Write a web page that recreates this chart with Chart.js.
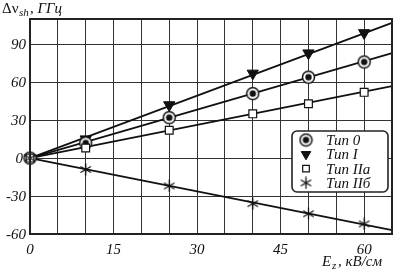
<!DOCTYPE html>
<html>
<head>
<meta charset="utf-8">
<script src="https://cdn.jsdelivr.net/npm/chart.js@4.4.0/dist/chart.umd.min.js"></script>
<style>
  html, body { margin: 0; padding: 0; background: #fff; }
  #wrap { width: 393px; height: 271px; }
</style>
</head>
<body>
<div id="wrap"><canvas id="chart" width="393" height="271"></canvas></div>
<script>
// field values, кВ/см
const fields = [0, 10, 25, 40, 50, 60];
// measured shifts, ГГц
const type0  = [0, 12, 32, 51, 64, 76];
const typeI  = [0, 15, 42, 67, 83, 99];
const typeIIa = [0, 8, 22, 35, 43, 52];
const typeIIb = [0, -9, -22, -36, -44, -52];
// fit lines, value at x = 0 and x = 65
const fitX = [0, 65];
const fit0   = [0, 83];
const fitI   = [0, 107];
const fitIIa = [0, 57];
const fitIIb = [0, -57];
const xTicks = [0, 15, 30, 45, 60];
const yTicks = [-60, -30, 0, 30, 60, 90];
const legendNames = ['Тип 0', 'Тип I', 'Тип IIa', 'Тип IIб'];

const FONT = '"Liberation Serif", "DejaVu Serif", serif';

// bullseye marker
function bullseye() {
    const c = document.createElement('canvas');
    c.width = 15; c.height = 15;
    const g = c.getContext('2d');
    g.fillStyle = '#fff';
    g.strokeStyle = '#111';
    g.lineWidth = 1.5;
    g.beginPath(); g.arc(7.5, 7.5, 6, 0, Math.PI * 2); g.fill(); g.stroke();
    g.fillStyle = '#111';
    g.beginPath(); g.arc(7.5, 7.5, 3.2, 0, Math.PI * 2); g.fill();
    return c;
}
// six-arm asterisk marker
function asterisk() {
    const c = document.createElement('canvas');
    c.width = 13; c.height = 13;
    const g = c.getContext('2d');
    g.strokeStyle = '#111';
    g.lineWidth = 1.3;
    g.lineCap = 'round';
    for (let k = 0; k < 3; k++) {
        const ang = Math.PI / 2 + k * Math.PI / 3;
        const dx = Math.cos(ang) * 5.5, dy = Math.sin(ang) * 5.5;
        g.beginPath(); g.moveTo(6.5 - dx, 6.5 - dy); g.lineTo(6.5 + dx, 6.5 + dy); g.stroke();
    }
    return c;
}
const bull = bullseye();
const star = asterisk();

const pts = (ys) => fields.map((x, i) => ({ x, y: ys[i] }));
const line = (ys) => fitX.map((x, i) => ({ x, y: ys[i] }));

function lineSet(ys) {
    return { data: line(ys), borderColor: '#111', borderWidth: 1.8, pointRadius: 0, showLine: true, order: 5, clip: false };
}

const markers = [
    { pointStyle: bull, pointRadius: 7, backgroundColor: '#fff', borderColor: '#111', borderWidth: 1.4, rotation: 0 },
    { pointStyle: 'triangle', pointRadius: 6.5, backgroundColor: '#111', borderColor: '#111', borderWidth: 1, rotation: 180 },
    { pointStyle: 'rect', pointRadius: 5.5, backgroundColor: '#fff', borderColor: '#111', borderWidth: 1.2, rotation: 0 },
    { pointStyle: star, pointRadius: 6, backgroundColor: '#fff', borderColor: '#111', borderWidth: 1.2, rotation: 0 }
];

function markSet(ys, m) {
    return {
        data: pts(ys), showLine: false, order: 1, clip: false,
        pointStyle: m.pointStyle, pointRadius: m.pointRadius, rotation: m.rotation,
        pointBackgroundColor: m.backgroundColor, pointBorderColor: m.borderColor, pointBorderWidth: m.borderWidth
    };
}

const framePlugin = {
    id: 'frame',
    afterDraw(chart) {
        const { ctx, chartArea: a, scales } = chart;
        ctx.save();
        ctx.strokeStyle = '#222';
        ctx.lineWidth = 2;
        ctx.strokeRect(a.left, a.top, a.right - a.left, a.bottom - a.top);

        // tick labels
        ctx.fillStyle = '#111';
        ctx.font = 'italic 15px ' + FONT;
        ctx.textAlign = 'center';
        ctx.textBaseline = 'alphabetic';
        xTicks.forEach(v => ctx.fillText(String(v), scales.x.getPixelForValue(v), 254));
        ctx.textAlign = 'right';
        ctx.textBaseline = 'middle';
        yTicks.forEach(v => ctx.fillText(String(v), v === 0 ? 23 : 26, scales.y.getPixelForValue(v) + 1));
        ctx.textAlign = 'left';

        // axis titles
        ctx.textBaseline = 'alphabetic';
        ctx.font = '15px ' + FONT;
        ctx.fillText('Δν', 2, 13);
        ctx.font = 'italic 11px ' + FONT;
        ctx.fillText('sh', 19, 16);
        ctx.font = 'italic 15px ' + FONT;
        ctx.fillText(', ГГц', 30, 13);

        ctx.font = 'italic 15px ' + FONT;
        ctx.fillText('E', 322, 266);
        ctx.font = 'italic 11px ' + FONT;
        ctx.fillText('z', 332, 269);
        ctx.font = 'italic 15px ' + FONT;
        ctx.fillText(', кВ/см', 338, 266);

        // legend box
        const bx = 292, by = 131, bw = 96, bh = 61;
        ctx.fillStyle = '#fff';
        ctx.strokeStyle = '#222';
        ctx.lineWidth = 1.6;
        ctx.beginPath();
        ctx.roundRect(bx, by, bw, bh, 5);
        ctx.fill(); ctx.stroke();
        ctx.font = 'italic 15px ' + FONT;
        ctx.textBaseline = 'middle';
        markers.forEach((m, i) => {
            const y = by + 9 + i * 14.3;
            ctx.save();
            ctx.fillStyle = m.backgroundColor;
            ctx.strokeStyle = m.borderColor;
            ctx.lineWidth = m.borderWidth;
            Chart.helpers.drawPoint(ctx, {
                pointStyle: m.pointStyle, radius: m.pointRadius * 0.85, rotation: m.rotation, borderWidth: m.borderWidth
            }, 306, y);
            ctx.restore();
            ctx.fillStyle = '#111';
            ctx.fillText(legendNames[i], 326, y + 1);
        });
        ctx.restore();
    }
};

new Chart(document.getElementById('chart'), {
    type: 'scatter',
    data: {
        datasets: [
            lineSet(fitI), lineSet(fit0), lineSet(fitIIa), lineSet(fitIIb),
            markSet(typeIIb, markers[3]), markSet(typeIIa, markers[2]),
            markSet(type0, markers[0]), markSet(typeI, markers[1])
        ]
    },
    options: {
        responsive: false,
        animation: false,
        layout: { autoPadding: false, padding: { top: 19, right: 1, left: 0, bottom: 0 } },
        plugins: { legend: { display: false }, tooltip: { enabled: false } },
        scales: {
            x: {
                type: 'linear', min: 0, max: 65,
                ticks: { stepSize: 5, display: false, maxTicksLimit: 20 },
                grid: { color: '#333', lineWidth: 1, drawTicks: false },
                border: { display: false },
                afterFit(s) { s.height = 37; }
            },
            y: {
                type: 'linear', min: -60, max: 110,
                afterBuildTicks(s) { s.ticks = yTicks.map(v => ({ value: v })); },
                ticks: { display: false },
                grid: { color: '#333', lineWidth: 1, drawTicks: false },
                border: { display: false },
                afterFit(s) { s.width = 30; }
            }
        }
    },
    plugins: [framePlugin]
});
</script>
</body>
</html>
